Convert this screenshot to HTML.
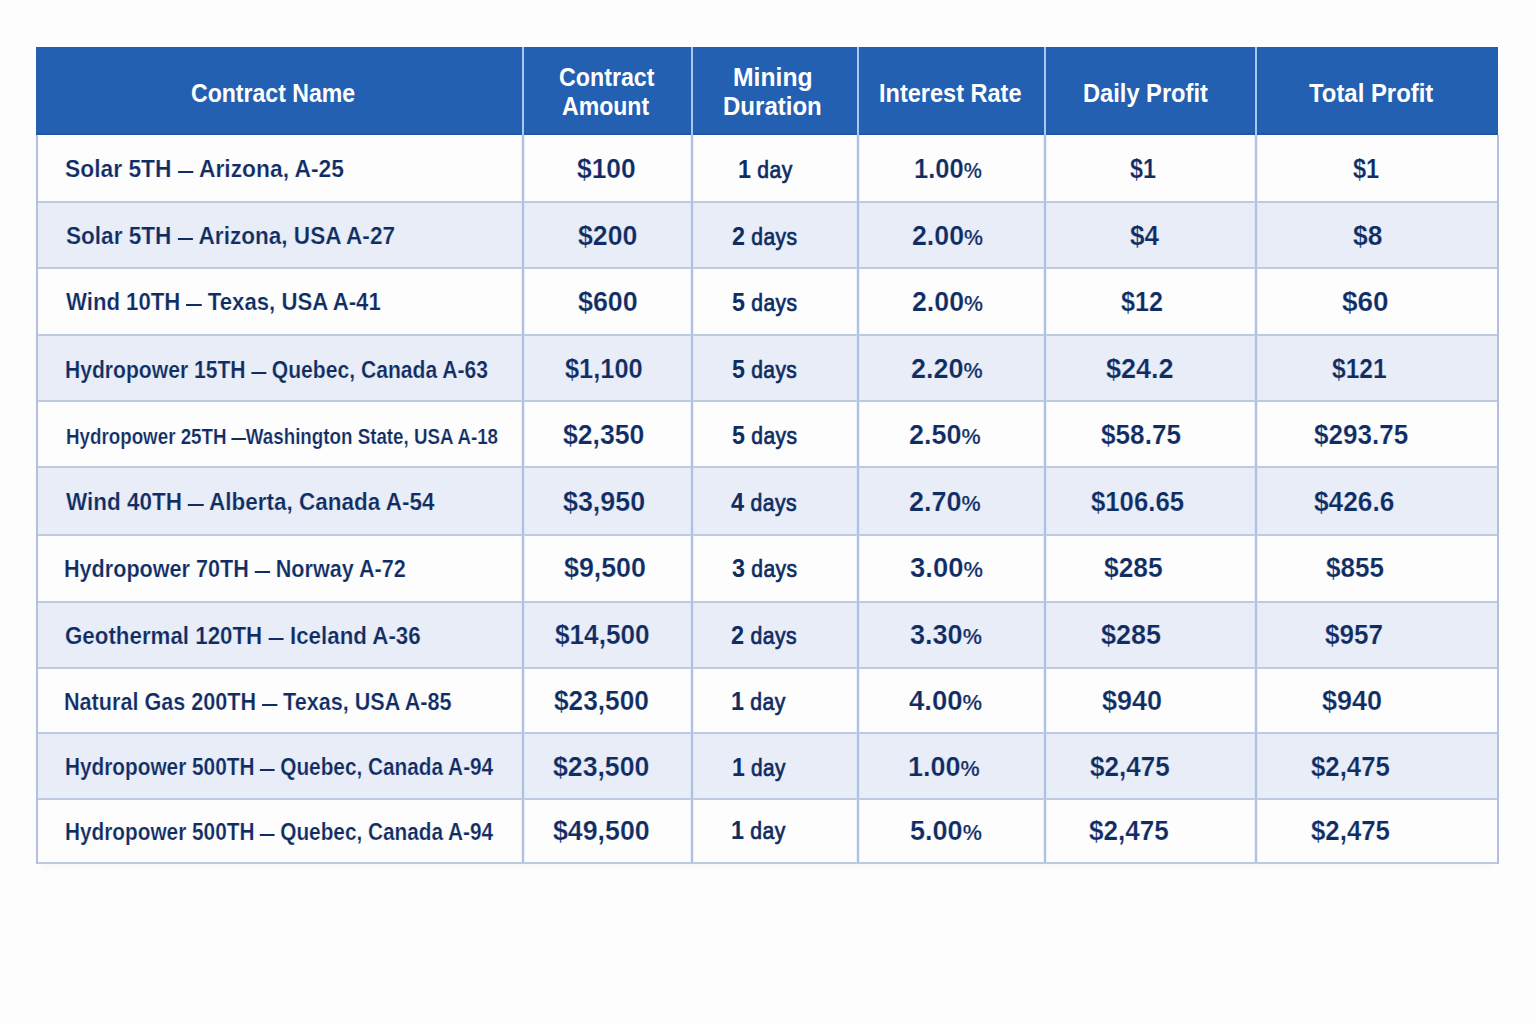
<!DOCTYPE html>
<html><head><meta charset="utf-8"><style>
html,body{margin:0;padding:0;}
body{width:1536px;height:1024px;background:#fdfdfe;position:relative;overflow:hidden;font-family:"Liberation Sans",sans-serif;}
.a{position:absolute;}
.t{position:absolute;white-space:nowrap;font-weight:bold;line-height:1;transform-origin:0 0;}
.b{font-size:25px;color:#0f2c63;}
.n{font-size:27px;color:#0f2c63;}
.d{font-size:26px;color:#0f2c63;}
.dw{font-size:23.5px;font-weight:normal;-webkit-text-stroke:0.7px #0f2c63;letter-spacing:0.5px;}
.p{font-size:80%;}
.sw{-webkit-text-stroke:0.22px #fdfdfe;}
.ss{-webkit-text-stroke:0.22px #e8edf7;}
.ds{display:inline-block;width:16.5px;height:2px;background:#0f2c63;vertical-align:4px;}
.h{font-size:26px;color:#ffffff;}
</style></head><body>

<div class="a" style="left:36px;top:47px;width:1462px;height:815.8px;box-shadow:0 6px 10px -5px rgba(20,30,80,0.06)"></div>
<div class="a" style="left:36px;top:134.5px;width:1462px;height:67.5px;background:#fdfdfe"></div>
<div class="a" style="left:36px;top:202px;width:1462px;height:65.69999999999999px;background:#e8edf7"></div>
<div class="a" style="left:36px;top:267.7px;width:1462px;height:67.19999999999999px;background:#fdfdfe"></div>
<div class="a" style="left:36px;top:334.9px;width:1462px;height:66.0px;background:#e8edf7"></div>
<div class="a" style="left:36px;top:400.9px;width:1462px;height:66.0px;background:#fdfdfe"></div>
<div class="a" style="left:36px;top:466.9px;width:1462px;height:67.60000000000002px;background:#e8edf7"></div>
<div class="a" style="left:36px;top:534.5px;width:1462px;height:67.89999999999998px;background:#fdfdfe"></div>
<div class="a" style="left:36px;top:602.4px;width:1462px;height:65.10000000000002px;background:#e8edf7"></div>
<div class="a" style="left:36px;top:667.5px;width:1462px;height:65.39999999999998px;background:#fdfdfe"></div>
<div class="a" style="left:36px;top:732.9px;width:1462px;height:66.20000000000005px;background:#e8edf7"></div>
<div class="a" style="left:36px;top:799.1px;width:1462px;height:63.69999999999993px;background:#fdfdfe"></div>
<div class="a" style="left:36px;top:47px;width:1462px;height:87.5px;background:#2360b1"></div>
<div class="a" style="left:36px;top:132.5px;width:1462px;height:2px;background:#2157a6"></div>
<div class="a" style="left:36px;top:201px;width:1462px;height:2px;background:#bdcae0"></div>
<div class="a" style="left:36px;top:266.7px;width:1462px;height:2px;background:#bdcae0"></div>
<div class="a" style="left:36px;top:333.9px;width:1462px;height:2px;background:#bdcae0"></div>
<div class="a" style="left:36px;top:399.9px;width:1462px;height:2px;background:#bdcae0"></div>
<div class="a" style="left:36px;top:465.9px;width:1462px;height:2px;background:#bdcae0"></div>
<div class="a" style="left:36px;top:533.5px;width:1462px;height:2px;background:#bdcae0"></div>
<div class="a" style="left:36px;top:601.4px;width:1462px;height:2px;background:#bdcae0"></div>
<div class="a" style="left:36px;top:666.5px;width:1462px;height:2px;background:#bdcae0"></div>
<div class="a" style="left:36px;top:731.9px;width:1462px;height:2px;background:#bdcae0"></div>
<div class="a" style="left:36px;top:798.1px;width:1462px;height:2px;background:#bdcae0"></div>
<div class="a" style="left:36px;top:861.8px;width:1462px;height:2px;background:#bdcae0"></div>
<div class="a" style="left:36px;top:134.5px;width:2px;height:729.3px;background:#b2c2de"></div>
<div class="a" style="left:522px;top:47px;width:2px;height:87.5px;background:#a8c8f2"></div>
<div class="a" style="left:522px;top:134.5px;width:2px;height:728.3px;background:#b2c2de;box-shadow:-1px 0 0 rgba(205,225,250,0.45),1px 0 0 rgba(205,225,250,0.45)"></div>
<div class="a" style="left:691px;top:47px;width:2px;height:87.5px;background:#a8c8f2"></div>
<div class="a" style="left:691px;top:134.5px;width:2px;height:728.3px;background:#b2c2de;box-shadow:-1px 0 0 rgba(205,225,250,0.45),1px 0 0 rgba(205,225,250,0.45)"></div>
<div class="a" style="left:857px;top:47px;width:2px;height:87.5px;background:#a8c8f2"></div>
<div class="a" style="left:857px;top:134.5px;width:2px;height:728.3px;background:#b2c2de;box-shadow:-1px 0 0 rgba(205,225,250,0.45),1px 0 0 rgba(205,225,250,0.45)"></div>
<div class="a" style="left:1044px;top:47px;width:2px;height:87.5px;background:#a8c8f2"></div>
<div class="a" style="left:1044px;top:134.5px;width:2px;height:728.3px;background:#b2c2de;box-shadow:-1px 0 0 rgba(205,225,250,0.45),1px 0 0 rgba(205,225,250,0.45)"></div>
<div class="a" style="left:1255px;top:47px;width:2px;height:87.5px;background:#a8c8f2"></div>
<div class="a" style="left:1255px;top:134.5px;width:2px;height:728.3px;background:#b2c2de;box-shadow:-1px 0 0 rgba(205,225,250,0.45),1px 0 0 rgba(205,225,250,0.45)"></div>
<div class="a" style="left:1497px;top:134.5px;width:2px;height:729.3px;background:#b2c2de"></div>
<div class="t h" style="left:190.50px;top:79.80px;transform:scaleX(0.8873)">Contract Name</div>
<div class="t h" style="left:559.10px;top:63.60px;transform:scaleX(0.8936)">Contract</div>
<div class="t h" style="left:562.30px;top:92.70px;transform:scaleX(0.8871)">Amount</div>
<div class="t h" style="left:733.20px;top:63.60px;transform:scaleX(0.9502)">Mining</div>
<div class="t h" style="left:722.80px;top:92.70px;transform:scaleX(0.9242)">Duration</div>
<div class="t h" style="left:878.80px;top:79.80px;transform:scaleX(0.9046)">Interest Rate</div>
<div class="t h" style="left:1082.90px;top:79.80px;transform:scaleX(0.9098)">Daily Profit</div>
<div class="t h" style="left:1309.00px;top:79.80px;transform:scaleX(0.9187)">Total Profit</div>
<div class="t b sw" style="left:64.90px;top:157.05px;transform:scaleX(0.9506);font-size:24px">Solar 5TH <span class="ds"></span> Arizona, A-25</div>
<div class="t n sw" style="left:577.00px;top:155.75px;transform:scaleX(0.9769)">$100</div>
<div class="t d" style="left:738.00px;top:156.45px;transform:scaleX(0.8983)">1<span class="dw"> day</span></div>
<div class="t n sw" style="left:913.90px;top:155.75px;transform:scaleX(0.9444)">1.00<span class="p">%</span></div>
<div class="t n sw" style="left:1129.50px;top:155.75px;transform:scaleX(0.8655)">$1</div>
<div class="t n sw" style="left:1353.00px;top:155.75px;transform:scaleX(0.8738)">$1</div>
<div class="t b ss" style="left:65.80px;top:224.40px;transform:scaleX(0.9402);font-size:24px">Solar 5TH <span class="ds"></span> Arizona, USA A-27</div>
<div class="t n ss" style="left:577.60px;top:223.35px;transform:scaleX(0.9868)">$200</div>
<div class="t d" style="left:732.30px;top:223.05px;transform:scaleX(0.8965)">2<span class="dw"> days</span></div>
<div class="t n ss" style="left:911.70px;top:223.35px;transform:scaleX(0.9900)">2.00<span class="p">%</span></div>
<div class="t n ss" style="left:1130.30px;top:223.35px;transform:scaleX(0.9644)">$4</div>
<div class="t n ss" style="left:1353.30px;top:223.35px;transform:scaleX(0.9767)">$8</div>
<div class="t b sw" style="left:65.80px;top:290.35px;transform:scaleX(0.9235);font-size:24px">Wind 10TH <span class="ds"></span> Texas, USA A-41</div>
<div class="t n sw" style="left:577.60px;top:288.80px;transform:scaleX(0.9945)">$600</div>
<div class="t d" style="left:732.30px;top:288.50px;transform:scaleX(0.8965)">5<span class="dw"> days</span></div>
<div class="t n sw" style="left:911.70px;top:288.80px;transform:scaleX(0.9900)">2.00<span class="p">%</span></div>
<div class="t n sw" style="left:1120.90px;top:288.80px;transform:scaleX(0.9306)">$12</div>
<div class="t n sw" style="left:1341.70px;top:288.80px;transform:scaleX(1.0345)">$60</div>
<div class="t b ss" style="left:64.80px;top:357.70px;transform:scaleX(0.8792);font-size:24px">Hydropower 15TH <span class="ds"></span> Quebec, Canada A-63</div>
<div class="t n ss" style="left:564.80px;top:356.40px;transform:scaleX(0.9406)">$1,100</div>
<div class="t d" style="left:732.40px;top:356.10px;transform:scaleX(0.8923)">5<span class="dw"> days</span></div>
<div class="t n ss" style="left:910.70px;top:356.40px;transform:scaleX(0.9985)">2.20<span class="p">%</span></div>
<div class="t n ss" style="left:1105.70px;top:356.40px;transform:scaleX(1.0003)">$24.2</div>
<div class="t n ss" style="left:1331.80px;top:356.40px;transform:scaleX(0.9097)">$121</div>
<div class="t b sw" style="left:65.80px;top:425.60px;transform:scaleX(0.8527);font-size:22px">Hydropower 25TH <span class="ds"></span>Washington State, USA A-18</div>
<div class="t n sw" style="left:562.50px;top:422.40px;transform:scaleX(0.9857)">$2,350</div>
<div class="t d" style="left:732.40px;top:422.10px;transform:scaleX(0.8962)">5<span class="dw"> days</span></div>
<div class="t n sw" style="left:909.40px;top:422.40px;transform:scaleX(0.9986)">2.50<span class="p">%</span></div>
<div class="t n sw" style="left:1100.80px;top:422.40px;transform:scaleX(0.9690)">$58.75</div>
<div class="t n sw" style="left:1313.70px;top:422.40px;transform:scaleX(0.9653)">$293.75</div>
<div class="t b ss" style="left:65.80px;top:490.35px;transform:scaleX(0.9370);font-size:24px">Wind 40TH <span class="ds"></span> Alberta, Canada A-54</div>
<div class="t n ss" style="left:562.50px;top:489.20px;transform:scaleX(0.9938)">$3,950</div>
<div class="t d" style="left:731.20px;top:488.90px;transform:scaleX(0.9028)">4<span class="dw"> days</span></div>
<div class="t n ss" style="left:909.40px;top:489.20px;transform:scaleX(0.9986)">2.70<span class="p">%</span></div>
<div class="t n ss" style="left:1091.40px;top:489.20px;transform:scaleX(0.9528)">$106.65</div>
<div class="t n ss" style="left:1314.40px;top:489.20px;transform:scaleX(0.9725)">$426.6</div>
<div class="t b sw" style="left:63.80px;top:556.80px;transform:scaleX(0.9001);font-size:24px">Hydropower 70TH <span class="ds"></span> Norway A-72</div>
<div class="t n sw" style="left:563.80px;top:554.95px;transform:scaleX(0.9918)">$9,500</div>
<div class="t d" style="left:732.30px;top:554.65px;transform:scaleX(0.8965)">3<span class="dw"> days</span></div>
<div class="t n sw" style="left:909.60px;top:554.95px;transform:scaleX(1.0160)">3.00<span class="p">%</span></div>
<div class="t n sw" style="left:1103.80px;top:554.95px;transform:scaleX(0.9773)">$285</div>
<div class="t n sw" style="left:1326.10px;top:554.95px;transform:scaleX(0.9656)">$855</div>
<div class="t b ss" style="left:64.80px;top:623.50px;transform:scaleX(0.9300);font-size:24px">Geothermal 120TH <span class="ds"></span> Iceland A-36</div>
<div class="t n ss" style="left:555.00px;top:622.45px;transform:scaleX(0.9685)">$14,500</div>
<div class="t d" style="left:731.20px;top:622.15px;transform:scaleX(0.9026)">2<span class="dw"> days</span></div>
<div class="t n ss" style="left:909.60px;top:622.45px;transform:scaleX(1.0016)">3.30<span class="p">%</span></div>
<div class="t n ss" style="left:1100.80px;top:622.45px;transform:scaleX(1.0010)">$285</div>
<div class="t n ss" style="left:1324.60px;top:622.45px;transform:scaleX(0.9644)">$957</div>
<div class="t b sw" style="left:63.80px;top:689.70px;transform:scaleX(0.9004);font-size:24px">Natural Gas 200TH <span class="ds"></span> Texas, USA A-85</div>
<div class="t n sw" style="left:554.20px;top:687.70px;transform:scaleX(0.9725)">$23,500</div>
<div class="t d" style="left:731.30px;top:688.40px;transform:scaleX(0.9001)">1<span class="dw"> day</span></div>
<div class="t n sw" style="left:908.50px;top:687.70px;transform:scaleX(1.0201)">4.00<span class="p">%</span></div>
<div class="t n sw" style="left:1101.50px;top:687.70px;transform:scaleX(0.9987)">$940</div>
<div class="t n sw" style="left:1322.40px;top:687.70px;transform:scaleX(0.9987)">$940</div>
<div class="t b ss" style="left:64.80px;top:755.00px;transform:scaleX(0.8660);font-size:24px">Hydropower 500TH <span class="ds"></span> Quebec, Canada A-94</div>
<div class="t n ss" style="left:552.90px;top:753.50px;transform:scaleX(0.9871)">$23,500</div>
<div class="t d" style="left:732.30px;top:754.20px;transform:scaleX(0.8855)">1<span class="dw"> day</span></div>
<div class="t n ss" style="left:908.40px;top:753.50px;transform:scaleX(0.9988)">1.00<span class="p">%</span></div>
<div class="t n ss" style="left:1090.10px;top:753.50px;transform:scaleX(0.9651)">$2,475</div>
<div class="t n ss" style="left:1311.00px;top:753.50px;transform:scaleX(0.9546)">$2,475</div>
<div class="t b sw" style="left:64.80px;top:820.00px;transform:scaleX(0.8659);font-size:24px">Hydropower 500TH <span class="ds"></span> Quebec, Canada A-94</div>
<div class="t n sw" style="left:553.10px;top:818.45px;transform:scaleX(0.9903)">$49,500</div>
<div class="t d" style="left:731.30px;top:817.15px;transform:scaleX(0.9001)">1<span class="dw"> day</span></div>
<div class="t n sw" style="left:909.60px;top:818.45px;transform:scaleX(1.0016)">5.00<span class="p">%</span></div>
<div class="t n sw" style="left:1088.60px;top:818.45px;transform:scaleX(0.9661)">$2,475</div>
<div class="t n sw" style="left:1311.00px;top:818.45px;transform:scaleX(0.9561)">$2,475</div>
</body></html>
